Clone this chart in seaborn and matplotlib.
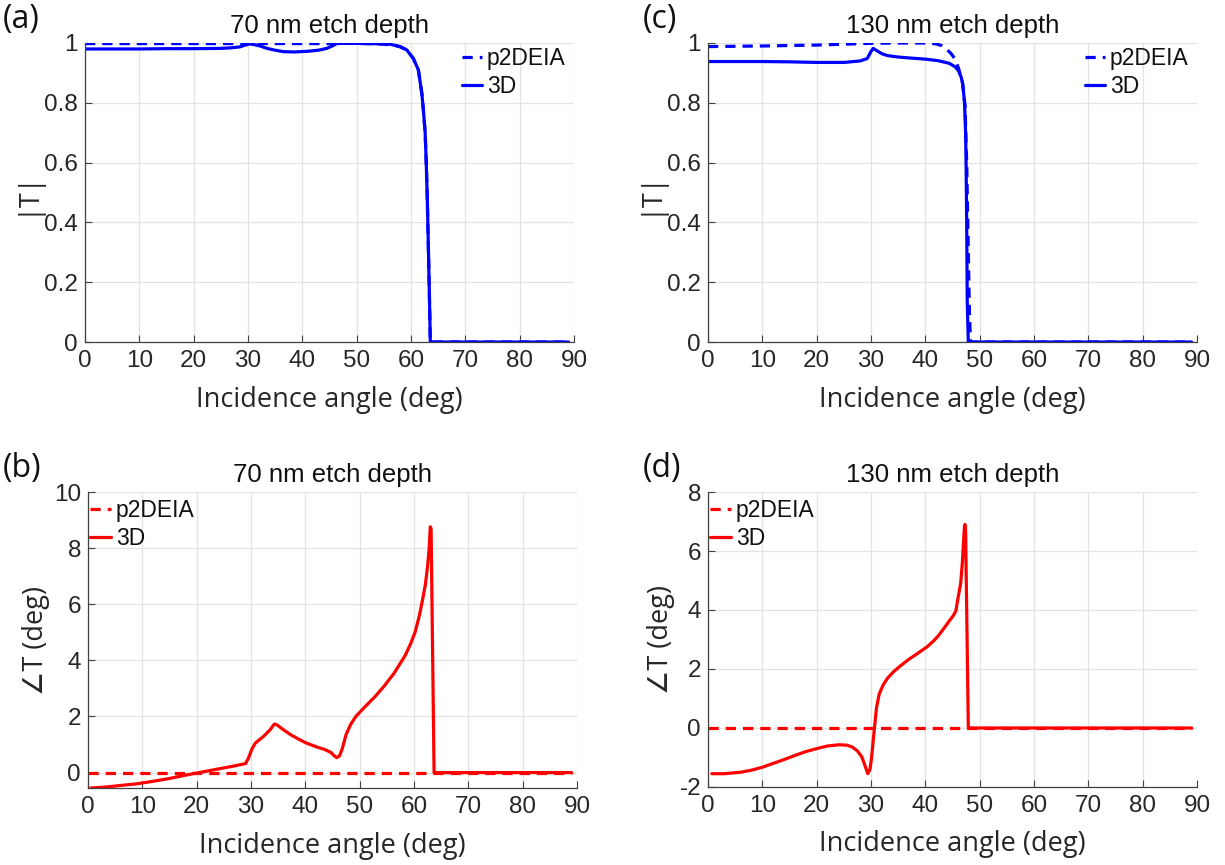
import numpy as np
import pandas as pd
import seaborn as sns
import matplotlib
matplotlib.use("Agg")
import matplotlib.pyplot as plt
from matplotlib.ticker import FuncFormatter

# ---- data ----
# (a) |T|, 70 nm etch depth
ang_a_p2 = [0, 10, 20, 30, 40, 46, 48, 52, 55, 57, 58, 59.2, 60.4, 61.35, 62.0, 62.3, 62.6, 62.8, 63.0, 63.2, 63.4, 63.55, 65, 70, 80, 89]
mag_a_p2 = [0.998, 0.998, 0.998, 0.998, 0.998, 0.998, 0.999, 0.998, 0.996, 0.992, 0.987, 0.977, 0.949, 0.91, 0.83, 0.77, 0.70, 0.60, 0.475, 0.31, 0.14, 0.0, 0.0, 0.0, 0.0, 0.0]
ang_a_3d = [0, 5, 10, 15, 20, 25, 27, 28.5, 29.5, 30.2, 31, 32.2, 33.5, 34.7, 36.5, 38.5, 40.8, 43, 44.5, 45.5, 46.3, 47.5, 49, 52, 55, 56.1, 58,
            59.2, 60.4, 61.35, 62.0, 62.3, 62.6, 62.8, 63.0, 63.2, 63.4, 63.55, 65, 70, 75, 80, 85, 89]
mag_a_3d = [0.980, 0.980, 0.980, 0.981, 0.981, 0.982, 0.984, 0.987, 0.993, 0.997, 0.995, 0.990, 0.982, 0.977, 0.971, 0.970, 0.972, 0.976, 0.982, 0.990, 0.998, 0.999, 0.999, 0.998, 0.997, 0.996, 0.988,
            0.977, 0.949, 0.91, 0.83, 0.77, 0.70, 0.60, 0.475, 0.31, 0.14, 0.0, 0.0, 0.0, 0.0, 0.0, 0.0, 0.0]

# (b) phase, 70 nm etch depth
ang_b_p2 = [0, 10, 20, 30, 40, 50, 60, 63.7, 70, 80, 89]
ph_b_p2 = [0, 0, 0, 0, 0, 0, 0, 0, 0, 0, 0]
ang_b_3d = [0.5, 3, 6, 9, 12, 15, 18, 21, 24, 27, 29, 29.5, 30.2, 30.8, 32.3, 33.5, 34.3, 34.8, 35.8, 37.3, 38.7, 40.1, 42, 43.6, 44.7, 45.3,
            45.8, 46.3, 46.8, 47.5, 48.3, 49.3, 51, 52.8, 54.5, 56.3, 57.5, 58.4, 59.4, 60.2, 61.0, 61.6, 62.1, 62.5, 62.8, 63.0, 63.15,
            63.7, 65, 70, 75, 80, 85, 89]
ph_b_3d = [-0.55, -0.52, -0.46, -0.40, -0.31, -0.21, -0.09, 0.02, 0.13, 0.24, 0.32, 0.5, 0.85, 1.05, 1.29, 1.52, 1.73, 1.70, 1.55, 1.35, 1.2, 1.06, 0.92, 0.82, 0.72, 0.6,
           0.53, 0.6, 0.85, 1.35, 1.7, 2.0, 2.35, 2.7, 3.08, 3.53, 3.9, 4.18, 4.6, 5.0, 5.6, 6.18, 6.7, 7.35, 8.0, 8.76, 8.7,
           0.0, 0.0, 0.0, 0.0, 0.0, 0.0, 0.0]

# (c) |T|, 130 nm etch depth
ang_c_p2 = [0, 10, 20, 25, 30, 35, 40, 42, 43, 44, 44.8, 45.5, 46.1, 46.8, 47.3, 47.6, 47.9, 48.1, 48.3, 49, 50, 60, 70, 80, 89]
mag_c_p2 = [0.988, 0.990, 0.993, 0.996, 0.999, 1.0, 1.0, 0.997, 0.991, 0.978, 0.963, 0.945, 0.915, 0.87, 0.79, 0.6, 0.3, 0.1, 0.0, 0.0, 0.0, 0.0, 0.0, 0.0, 0.0]
ang_c_3d = [0, 5, 10, 15, 20, 25, 28, 29.3, 30, 30.4, 31, 32, 33, 35, 37, 40, 42.3, 44.4, 45.5, 46.1, 46.6, 46.9, 47.2, 47.4, 47.5, 47.6, 47.7, 47.9,
            49, 50, 60, 70, 80, 89]
mag_c_3d = [0.938, 0.938, 0.938, 0.937, 0.935, 0.935, 0.940, 0.948, 0.972, 0.982, 0.975, 0.964, 0.958, 0.953, 0.950, 0.946, 0.941, 0.932, 0.92, 0.907, 0.885, 0.86, 0.80, 0.70, 0.58, 0.40, 0.14, 0.0,
            0.0, 0.0, 0.0, 0.0, 0.0, 0.0]

# (d) phase, 130 nm etch depth
ang_d_p2 = [0, 10, 20, 30, 40, 48, 60, 70, 80, 89]
ph_d_p2 = [0, 0, 0, 0, 0, 0, 0, 0, 0, 0]
ang_d_3d = [0.7, 3, 6, 8, 10, 12, 14, 16, 18, 20, 22, 24, 25.5, 26.5, 27.5, 28.3, 28.9, 29.4, 29.8, 30.1, 30.5, 31.0, 31.5, 32.2, 33.0,
            34.1, 35.5, 36.9, 38.5, 40.3, 41.5, 42.4, 43.5, 44.4, 45.1, 45.6, 46.0, 46.5, 46.8, 47.0, 47.2, 47.3, 47.4, 47.9,
            50, 60, 70, 80, 89]
ph_d_3d = [-1.55, -1.55, -1.5, -1.43, -1.33, -1.2, -1.07, -0.93, -0.8, -0.7, -0.61, -0.57, -0.58, -0.64, -0.78, -0.98, -1.28, -1.55, -1.4, -1.0, -0.22, 0.68, 1.15, 1.45, 1.68,
           1.9, 2.12, 2.32, 2.52, 2.75, 2.95, 3.13, 3.4, 3.63, 3.8, 3.96, 4.4, 4.91, 5.6, 6.25, 6.85, 6.9, 6.7, 0.0,
           0.0, 0.0, 0.0, 0.0, 0.0]

panels = [
    # letter, rect, title, ylabel, color, p2 data, 3d data, ylim, yticks, legend pos
    ("(a)", [0.0694, 0.6046, 0.3992, 0.3457], "70 nm etch depth", "|T|", "#0000ff",
     (ang_a_p2, mag_a_p2), (ang_a_3d, mag_a_3d), (0, 1), np.arange(0, 1.01, 0.2), (0.77, 0.985)),
    ("(b)", [0.0718, 0.0890, 0.3992, 0.3422], "70 nm etch depth", "∠T (deg)", "#ff0000",
     (ang_b_p2, ph_b_p2), (ang_b_3d, ph_b_3d), (-0.55, 10), np.arange(0, 10.1, 2), (0.005, 0.975)),
    ("(c)", [0.5780, 0.6046, 0.3992, 0.3457], "130 nm etch depth", "|T|", "#0000ff",
     (ang_c_p2, mag_c_p2), (ang_c_3d, mag_c_3d), (0, 1), np.arange(0, 1.01, 0.2), (0.77, 0.985)),
    ("(d)", [0.5780, 0.0902, 0.3992, 0.3410], "130 nm etch depth", "∠T (deg)", "#ff0000",
     (ang_d_p2, ph_d_p2), (ang_d_3d, ph_d_3d), (-2, 8), np.arange(-2, 8.1, 2), (0.005, 0.975)),
]

sns.set_theme(style="whitegrid")
plt.rcParams["font.family"] = ["Liberation Sans", "DejaVu Sans"]
plt.rcParams["axes.edgecolor"] = "#262626"
plt.rcParams["grid.color"] = "#e3e3e3"

fig = plt.figure(figsize=(12.25, 8.65), dpi=100)
fig.patch.set_facecolor("white")

for letter, rect, title, ylab, col, p2, d3, ylim, yt, legpos in panels:
    ax = fig.add_axes(rect)
    ax.set_facecolor("white")
    df_p2 = pd.DataFrame({"x": p2[0], "y": p2[1]})
    df_3d = pd.DataFrame({"x": d3[0], "y": d3[1]})
    sns.lineplot(data=df_p2, x="x", y="y", ax=ax, color=col, linestyle=(0, (3.2, 2.2)),
                 linewidth=2.3, estimator=None, label="p2DEIA")
    sns.lineplot(data=df_3d, x="x", y="y", ax=ax, color=col, linewidth=2.3,
                 estimator=None, label="3D")
    ax.set_xlim(0, 90)
    ax.set_ylim(*ylim)
    ax.set_xticks(np.arange(0, 91, 10))
    ax.set_yticks(yt)
    ax.yaxis.set_major_formatter(FuncFormatter(lambda v, p: "%g" % round(v, 3)))
    ax.grid(True, color="#e3e3e3", linewidth=0.9)
    for s in ["top", "right"]:
        ax.spines[s].set_visible(False)
    for s in ["left", "bottom"]:
        ax.spines[s].set_color("#404040")
        ax.spines[s].set_linewidth(0.9)
    ax.tick_params(axis="both", direction="in", length=5, width=0.8, color="#404040",
                   labelsize=17.5, labelcolor="#262626", bottom=True, left=True)
    ax.tick_params(axis="x", pad=6)
    ax.tick_params(axis="y", pad=5)
    ax.set_title(title, fontsize=18.5, pad=7, color="#111111")
    ax.set_xlabel("Incidence angle (deg)", fontsize=19.5, family=["Open Sans", "DejaVu Sans"], color="#262626")
    ax.xaxis.set_label_coords(0.5, -0.195)
    ax.xaxis.label.set_va("center")
    ax.set_ylabel(ylab, fontsize=19.5, family=["Open Sans", "DejaVu Sans"], color="#262626", labelpad=3)
    leg = ax.legend(loc="upper left", bbox_to_anchor=legpos, frameon=False, fontsize=16.5,
                    handlelength=0.9, handletextpad=0.2, labelspacing=0.2, borderaxespad=0, borderpad=0)
    for t in leg.get_texts():
        t.set_color("#111111")
    top = rect[1] + rect[3]
    fig.text(0.002 if letter in ("(a)", "(b)") else 0.525, top + 0.027, letter,
             fontsize=23, family=["Open Sans", "DejaVu Sans"], va="center", ha="left", color="#111111")

fig.savefig("out.png", dpi=100, facecolor="white")
